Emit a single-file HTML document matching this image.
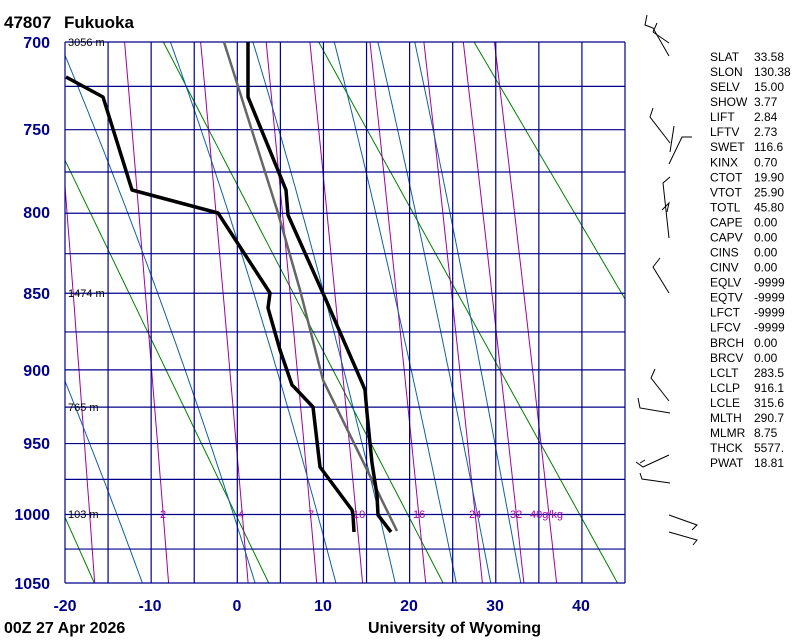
<!DOCTYPE html>
<html><head><meta charset="utf-8">
<style>
html,body{margin:0;padding:0;background:#fff;}
body{width:800px;height:640px;overflow:hidden;position:relative;font-family:"Liberation Sans",sans-serif;}
svg{position:absolute;left:0;top:0;}
</style></head>
<body>
<svg id="s" width="800" height="640" xmlns="http://www.w3.org/2000/svg" font-family="Liberation Sans, sans-serif">
<g id="bg"></g>
<g fill="none" stroke="#000" stroke-width="3.5" stroke-linejoin="round">
<polyline points="66,77 103,97 132,190 218,213 270,293 268,308 280,350 292,385 295,388 313,407 320,467 352,510 353,515 354,532"/>
</g>
<polyline fill="none" stroke="#666" stroke-width="2.5" points="224,42 278,213 300,290 323,380 397,531"/>
<polyline fill="none" stroke="#000" stroke-width="3.5" stroke-linejoin="round" points="248,42 248,97 286,190 288,215 326,300 363,385 365,390 367,413 372,463 377,495 378,515 391,532"/>
<g stroke="#000" stroke-width="1" fill="none">
<polyline points="669,56 653,28 645,25 647,15"/><line x1="653" y1="32" x2="669" y2="43"/><line x1="657" y1="23" x2="653" y2="32"/>
<polyline points="653,108 650,117 670,143"/><line x1="674" y1="126" x2="670" y2="152"/><polyline points="669,164 682,137 692,137"/>
<polyline points="669,238 663,183 670,177"/><polyline points="662,210 669,203 667,212"/>
<polyline points="669,293 653,267 660,258"/>
<polyline points="669,401 651,378 655,369"/><polyline points="638,398 640,408 670,413"/>
<polyline points="669,455 643,467 636,462"/><line x1="640" y1="463" x2="645" y2="460"/><polyline points="640,473 642,479 670,483"/>
<polyline points="669,515 697,525 692,530"/><polyline points="669,532 697,540 693,545"/>
</g>
<g font-size="11" fill="#000">
<text x="68" y="46">3056 m</text><text x="68" y="297">1474 m</text><text x="68" y="411">765 m</text><text x="68" y="518">103 m</text>
</g>
<g font-size="11" fill="#a0a">
<text x="160" y="518">2</text><text x="238" y="518">4</text><text x="308" y="518">7</text><text x="353" y="518">10</text><text x="413" y="518">16</text><text x="469" y="518">24</text><text x="510" y="518">32</text><text x="530" y="518">40g/kg</text>
</g>
<text x="4" y="28" font-size="17" font-weight="bold">47807</text>
<text x="64" y="28" font-size="17" font-weight="bold">Fukuoka</text>
<g font-size="16" font-weight="bold" fill="#00008b" text-anchor="end">
<text x="50" y="48">700</text><text x="50" y="135">750</text><text x="50" y="218">800</text><text x="50" y="299">850</text><text x="50" y="376">900</text><text x="50" y="449">950</text><text x="50" y="520">1000</text><text x="50" y="589">1050</text>
</g>
<g font-size="16" font-weight="bold" fill="#00008b" text-anchor="middle">
<text x="65" y="611">-20</text><text x="150" y="611">-10</text><text x="237" y="611">0</text><text x="323" y="611">10</text><text x="409" y="611">20</text><text x="495" y="611">30</text><text x="581" y="611">40</text>
</g>
<text x="4" y="633" font-size="16" font-weight="bold">00Z 27 Apr 2026</text>
<text x="368" y="633" font-size="16" font-weight="bold">University of Wyoming</text>
<g font-size="12" fill="#000" id="st"></g>
</svg>
<script>
var bg=document.getElementById('bg'),NS="http://www.w3.org/2000/svg";
var a=Math.pow(700,0.286),b=Math.pow(1050,0.286);
function Y(p){return 42+541*(Math.pow(p,0.286)-a)/(b-a);}
function X(t){return 237+8.6*t;}
function add(tag,at){var e=document.createElementNS(NS,tag);for(var k in at)e.setAttribute(k,at[k]);bg.appendChild(e);return e;}
add('defs',{}).innerHTML='<clipPath id="c"><rect x="65" y="42" width="560" height="541"/></clipPath>';
var g=add('g',{'clip-path':'url(#c)',fill:'none','stroke-width':1});
function pl(pts,col){var e=document.createElementNS(NS,'polyline');e.setAttribute('points',pts.map(function(q){return q[0].toFixed(1)+','+q[1].toFixed(1)}).join(' '));e.setAttribute('stroke',col);g.appendChild(e);}
for(var th=193;th<=433;th+=20){var pts=[];for(var p=700;p<=1050;p+=10){pts.push([X(th*Math.pow(p/1000,0.286)-273.15),Y(p)]);}pl(pts,'#008000');}
[1,2,4,7,10,16,24,32,40].forEach(function(w){var pts=[];for(var p=700;p<=1050;p+=10){var e=w*p/(622+w);var l=Math.log(e/6.112);var td=243.5*l/(17.67-l);pts.push([X(td),Y(p)]);}pl(pts,'#a000a0');});
function es(t){return 6.112*Math.exp(17.67*t/(t+243.5));}
[-11,2.1,11.5,18.4,25.5,29.5,33].forEach(function(t0){var T=t0+273.15,pts=[];for(var p=1050;p>=690;p-=2){pts.push([X(T-273.15),Y(p)]);var e=es(T-273.15),rs=0.622*e/(p-e);var d=(287*T+2.5e6*rs)/(p*(1004+2.5e6*2.5e6*rs*0.622/(287*T*T)));T-=d*2;}pl(pts,'#1060a0');});
for(var i=0;i<14;i++){var x=65+i*(560/13);add('line',{x1:x,y1:42,x2:x,y2:583,stroke:'#00008b','stroke-width':1.2});}
for(var p=700;p<=1050;p+=25){var y=Y(p);add('line',{x1:65,y1:y,x2:625,y2:y,stroke:'#00008b','stroke-width':1.2});}
var st=[["SLAT","33.58"],["SLON","130.38"],["SELV","15.00"],["SHOW","3.77"],["LIFT","2.84"],["LFTV","2.73"],["SWET","116.6"],["KINX","0.70"],["CTOT","19.90"],["VTOT","25.90"],["TOTL","45.80"],["CAPE","0.00"],["CAPV","0.00"],["CINS","0.00"],["CINV","0.00"],["EQLV","-9999"],["EQTV","-9999"],["LFCT","-9999"],["LFCV","-9999"],["BRCH","0.00"],["BRCV","0.00"],["LCLT","283.5"],["LCLP","916.1"],["LCLE","315.6"],["MLTH","290.7"],["MLMR","8.75"],["THCK","5577."],["PWAT","18.81"]];
var sg=document.getElementById('st');
st.forEach(function(r,i){var y=61+i*15.04;var t=document.createElementNS(NS,'text');t.setAttribute('x',710);t.setAttribute('y',y.toFixed(1));t.textContent=r[0];sg.appendChild(t);t=document.createElementNS(NS,'text');t.setAttribute('x',754);t.setAttribute('y',y.toFixed(1));t.textContent=r[1];sg.appendChild(t);});
</script>
</body></html>
